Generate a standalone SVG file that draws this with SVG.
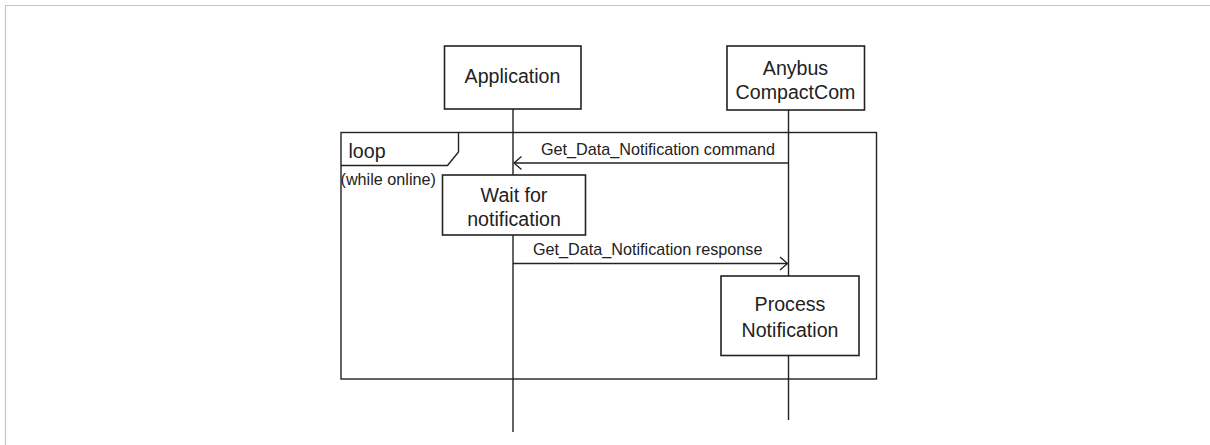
<svg xmlns="http://www.w3.org/2000/svg" width="1210" height="445" viewBox="0 0 1210 445">
<style>
.box{fill:#fff;stroke:#222;stroke-width:1.6}
.life{stroke:#222;stroke-width:1.4;fill:none}
.frame{fill:none;stroke:#222;stroke-width:1.4}
.msg{stroke:#222;stroke-width:1.3;fill:none}
.head{stroke:#222;stroke-width:1.3;fill:none}
.t{font-family:"Liberation Sans",Arial,sans-serif;font-size:19.6px;fill:#222;text-anchor:middle}
.lbl{font-family:"Liberation Sans",Arial,sans-serif;font-size:16.2px;fill:#222}
</style>
<rect x="0" y="0" width="1210" height="445" fill="#fff"/>
<path d="M5.5 445 V5.5 H1210" fill="none" stroke="#c4c4c4" stroke-width="1.2"/>
<g id="loop-frame">
<rect class="frame" x="341" y="132.5" width="535.5" height="246.5"/>
<path class="frame" d="M458.5 132.5 V152 L447.5 165.5 H341"/>
<text class="lbl" x="348.5" y="157.5" style="font-size:19.6px">loop</text>
<text class="lbl" x="340.5" y="185">(while online)</text>
</g>
<g id="lifelines">
<line class="life" x1="513" y1="109" x2="513" y2="432"/>
<line class="life" x1="788.5" y1="110" x2="788.5" y2="420"/>
</g>
<g id="connectors">
<line class="msg" x1="788.5" y1="163" x2="514" y2="163"/>
<path class="head" d="M521.5 156.5 L514 163 L521.5 169.5"/>
<text class="lbl" x="541" y="154.5">Get_Data_Notification command</text>
<line class="msg" x1="513" y1="263.5" x2="787.5" y2="263.5"/>
<path class="head" d="M780 257 L787.5 263.5 L780 270"/>
<text class="lbl" x="533" y="254.5">Get_Data_Notification response</text>
</g>
<g id="application">
<rect class="box" x="444.5" y="46" width="136.5" height="63"/>
<text class="t" x="512.5" y="83">Application</text>
</g>
<g id="anybus">
<rect class="box" x="727" y="46" width="137.5" height="64"/>
<text class="t" x="795.5" y="74.5">Anybus</text>
<text class="t" x="795.5" y="98.5">CompactCom</text>
</g>
<g id="wait">
<rect class="box" x="442.5" y="175" width="143" height="60"/>
<text class="t" x="514" y="202">Wait for</text>
<text class="t" x="514" y="226">notification</text>
</g>
<g id="process">
<rect class="box" x="721" y="276" width="138" height="79.5"/>
<text class="t" x="790" y="311">Process</text>
<text class="t" x="790" y="336.5">Notification</text>
</g>
</svg>
